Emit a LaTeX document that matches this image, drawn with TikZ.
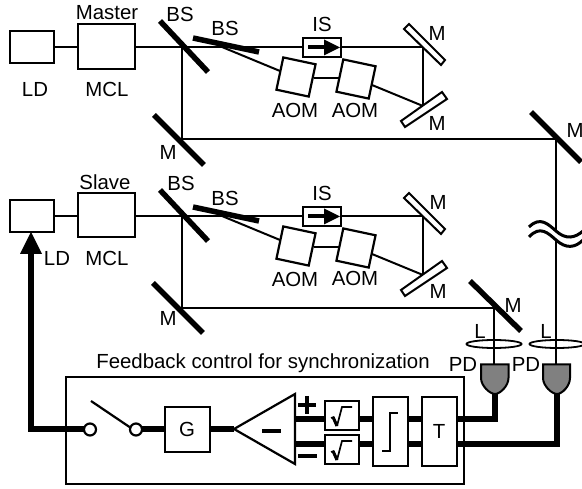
\documentclass[tikz,border=0pt]{standalone}
\usepackage{fontspec}
\setmainfont{Liberation Sans}
\usetikzlibrary{arrows.meta,shapes.geometric}
\tikzset{
  box/.style={draw,line width=2.2pt,fill=white,inner sep=0pt,minimum width=#1},
  lbl/.style={font=\fontsize{20.4}{20.4}\selectfont,inner sep=0pt},
  beam/.style={line width=2pt},
  thickbeam/.style={line width=6pt},
  bsm/.style={line width=5.5pt},
  hollow/.style={line width=2pt,fill=white}
}
\begin{document}
\begin{tikzpicture}[x=1pt,y=-1pt]
\useasboundingbox (0,0) rectangle (582,489);
\def\arm#1{%
  \begin{scope}[yshift=-#1pt]
    % beams
    \draw[beam] (54,47) -- (78,47);
    \draw[beam] (135,47) -- (423,47) -- (423,106);
    \draw[beam] (182,47) -- (182,139);
    \draw[beam] (222,47) -- (280,71);
    \draw[beam] (314,78) -- (340,78);
    \draw[beam] (372,85) -- (423,106);
    % beam splitters
    \draw[bsm] (160,21) -- (208,72);
    \draw[bsm] (193,38) -- (259,52);
    % AOMs
    \node[draw,line width=2.2pt,fill=white,minimum size=33pt,inner sep=0pt,rotate=-12] at (296,77) {};
    \node[draw,line width=2.2pt,fill=white,minimum size=33pt,inner sep=0pt,rotate=-12] at (356,79) {};
    % isolator
    \draw[line width=2pt,fill=white] (303,38) rectangle (341,57);
    \draw[line width=3.5pt] (308,47) -- (326,47);
    \fill (324,39.5) -- (340,47.5) -- (324,55.5) -- cycle;
    % end mirrors
    \draw[hollow] (404,29) -- (409,24) -- (445,60) -- (441,65) -- cycle;
    \draw[hollow] (401,121) -- (442,92) -- (447,99) -- (405,127) -- cycle;
  \end{scope}}
\arm{0}
\arm{169}
% lasers, MCLs
\node[box=44pt,minimum height=32pt] (ld1) at (32,47) {};
\node[box=57pt,minimum height=45pt] (mcl1) at (106.5,46.5) {};
\node[box=44pt,minimum height=32pt] (ld2) at (32,216) {};
\node[box=57pt,minimum height=44pt] (mcl2) at (106.5,215) {};
% mirrors and long beams
\draw[bsm] (154,115) -- (204,165);
\draw[bsm] (153,283) -- (203,333);
\draw[beam] (182,139) -- (556,139) -- (556,364);
\draw[beam] (182,308) -- (494,308) -- (494,364);
\draw[bsm] (531,112) -- (581,162);
\draw[bsm] (470,281) -- (521,331);
% break mark
\fill[white] (529,227) .. controls (540,216) and (548,224) .. (556,231) .. controls (566,240) and (575,238) .. (583,231) -- (583,240) .. controls (575,248) and (566,249) .. (556,240) .. controls (548,233) and (540,225) .. (529,237) -- cycle;
\draw[line width=3pt] (529,227) .. controls (540,216) and (548,224) .. (556,231) .. controls (566,240) and (575,238) .. (583,231);
\draw[line width=3pt] (529,237) .. controls (540,225) and (548,233) .. (556,240) .. controls (566,249) and (575,248) .. (583,240);
% lenses
\node[draw,ellipse,line width=1.8pt,fill=white,minimum width=55pt,minimum height=8pt,inner sep=0pt] (l1) at (494,344) {};
\node[draw,ellipse,line width=1.8pt,fill=white,minimum width=55pt,minimum height=8pt,inner sep=0pt] (l2) at (557,344) {};
\draw[beam] (494,308) -- (494,365);
\draw[beam] (556,300) -- (556,365);
% detectors
\draw[line width=2pt,fill=black!50] (481,364.5) -- (508.5,364.5) -- (508.5,378) .. controls (508.5,386) and (500,394) .. (495,394) .. controls (490,394) and (481,386) .. (481,378) -- cycle;
\draw[line width=2pt,fill=black!50] (543,364.5) -- (570,364.5) -- (570,378) .. controls (570,386) and (562,394) .. (557,394) .. controls (552,394) and (543,386) .. (543,378) -- cycle;
% control box
\node[draw,line width=2.2pt,minimum width=398pt,minimum height=107pt,inner sep=0pt] (fb) at (265,430.5) {};
% thick lines
\draw[thickbeam] (495,394) -- (495,419) -- (422,419);
\draw[thickbeam] (557,394) -- (557,444) -- (422,444);
\draw[thickbeam] (295,419) -- (422,419);
\draw[thickbeam] (295,444) -- (422,444);
\draw[thickbeam] (234,429) -- (136,429);
\draw[thickbeam] (90,429) -- (31,429) -- (31,250);
\fill (31,232) -- (42,254) -- (20,254) -- cycle;
% blocks
\node[draw,line width=2.2pt,fill=white,minimum width=35pt,minimum height=69pt,inner sep=0pt] (t) at (439.5,431.5) {};
\node[draw,line width=2.2pt,fill=white,minimum width=35pt,minimum height=69pt,inner sep=0pt] (st) at (390.5,431.5) {};
\node[draw,line width=2.2pt,fill=white,minimum width=34pt,minimum height=29pt,inner sep=0pt] (s1) at (342,415.5) {};
\node[draw,line width=2.2pt,fill=white,minimum width=34pt,minimum height=29pt,inner sep=0pt] (s2) at (342,449.5) {};
\draw[line width=2.2pt,fill=white] (234,429) -- (295,394) -- (295,464) -- cycle;
\node[draw,line width=2.2pt,fill=white,minimum width=45pt,minimum height=45pt,inner sep=0pt] (g) at (187.5,429.5) {};
\node[draw,circle,line width=2.2pt,fill=white,minimum size=12pt,inner sep=0pt] (c1) at (90,429.5) {};
\node[draw,circle,line width=2.2pt,fill=white,minimum size=12pt,inner sep=0pt] (c2) at (136,429.5) {};
\draw[line width=2.2pt] (91,401) -- (131,428);
% symbols
\draw[line width=3.5pt] (262,431) -- (281,431);
\draw[line width=4.5pt] (298,405) -- (316,405);
\draw[line width=4.5pt] (307,396) -- (307,414);
\draw[line width=4.5pt] (298,456) -- (317,456);
\draw[line width=1.6pt] (331,418) -- (334,417);
\draw[line width=3pt] (333,417) -- (337,426);
\draw[line width=1.7pt] (337,426) -- (342,407) -- (352,407);
\draw[line width=1.6pt] (331,452) -- (334,451);
\draw[line width=3pt] (333,451) -- (337,460);
\draw[line width=1.7pt] (337,460) -- (342,441) -- (352,441);
\draw[line width=2.2pt] (382,451) -- (390,451) -- (390,413) -- (398,413);
% labels
\node[lbl] at (107,13) {Master};
\node[lbl] at (107,89) {MCL};
\node[lbl] at (35,89) {LD};
\node[lbl] at (180,14) {BS};
\node[lbl] at (225,28) {BS};
\node[lbl] at (322,24) {IS};
\node[lbl] at (295,110) {AOM};
\node[lbl] at (355,110) {AOM};
\node[lbl] at (437,33) {M};
\node[lbl] at (437,123) {M};
\node[lbl] at (575,130) {M};
\node[lbl] at (168,152) {M};
\node[lbl] at (105,182) {Slave};
\node[lbl] at (57,258) {LD};
\node[lbl] at (107,258) {MCL};
\node[lbl] at (181,183) {BS};
\node[lbl] at (225,198) {BS};
\node[lbl] at (322,193) {IS};
\node[lbl] at (295,279) {AOM};
\node[lbl] at (355,278) {AOM};
\node[lbl] at (438,202) {M};
\node[lbl] at (438,291) {M};
\node[lbl] at (513,305) {M};
\node[lbl] at (168,318) {M};
\node[lbl] at (480,331) {L};
\node[lbl] at (546,331) {L};
\node[lbl] at (463,364) {PD};
\node[lbl] at (526,364) {PD};
\node[lbl] at (263,363) {Feedback control for synchronization};
\node[lbl] at (187,429.5) {G};
\node[lbl] at (439,431) {T};
\end{tikzpicture}
\end{document}
